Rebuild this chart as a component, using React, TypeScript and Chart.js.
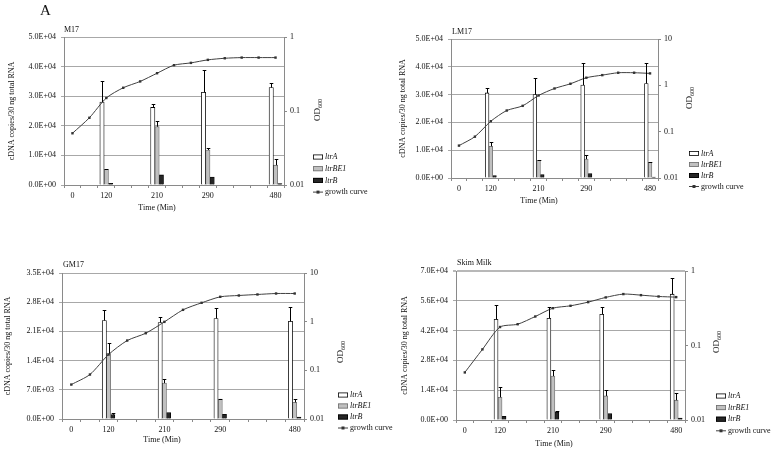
import React, { useEffect, useRef } from 'react';
import { Chart, registerables } from 'chart.js';
Chart.register(...registerables);

// ---------- data ----------
const timeLabels = ['0', '', '120', '', '', '210', '', '', '290', '', '', '', '480'];
const sampledIdx = [2, 5, 8, 12];

const m17LtrA = [28000, 26200, 31300, 32900];
const m17LtrAErr = [7200, 1200, 7500, 1700];
const m17LtrBE1 = [5300, 19700, 11800, 6700];
const m17LtrBE1Err = [200, 1900, 600, 2000];
const m17LtrB = [560, 3400, 2700, 450];
const m17LtrBErr = [0, 0, 0, 0];
const m17Growth = [0.050, 0.081, 0.150, 0.206, 0.251, 0.324, 0.416, 0.447, 0.491, 0.516, 0.527, 0.527, 0.527];

const lm17LtrA = [30600, 30000, 33400, 34000];
const lm17LtrAErr = [1600, 5800, 7900, 7500];
const lm17LtrBE1 = [11400, 6400, 6800, 5600];
const lm17LtrBE1Err = [1400, 200, 1300, 200];
const lm17LtrB = [840, 1200, 1600, 360];
const lm17LtrBErr = [0, 0, 0, 0];
const lm17Growth = [0.050, 0.078, 0.168, 0.286, 0.361, 0.604, 0.855, 1.08, 1.46, 1.66, 1.87, 1.87, 1.81];

const gm17LtrA = [23600, 23100, 24100, 23400];
const gm17LtrAErr = [2600, 1300, 2400, 3400];
const gm17LtrBE1 = [15700, 8600, 4800, 4000];
const gm17LtrBE1Err = [2600, 1000, 100, 900];
const gm17LtrB = [1040, 1520, 1120, 480];
const gm17LtrBErr = [400, 0, 0, 0];
const gm17Growth = [0.051, 0.082, 0.211, 0.409, 0.579, 0.99, 1.75, 2.44, 3.24, 3.45, 3.62, 3.79, 3.79];

const skimLtrA = [47300, 47800, 49700, 59100];
const skimLtrAErr = [6600, 5500, 3600, 7500];
const skimLtrBE1 = [10700, 20600, 11300, 9300];
const skimLtrBE1Err = [4600, 3000, 3000, 3300];
const skimLtrB = [1730, 3780, 3000, 940];
const skimLtrBErr = [0, 500, 0, 0];
const skimGrowth = [0.0435, 0.0887, 0.177, 0.193, 0.245, 0.317, 0.341, 0.382, 0.442, 0.490, 0.474, 0.455, 0.446];

// ---------- styling / layout ----------
const FONT = '"Liberation Serif", "Times New Roman", serif';
const GRID = '#a8a8a8';
const AXIS = '#8a8a8a';
const TXT = '#111';
const FILL_A = '#ffffff';
const FILL_BE1 = '#c0c0c0';
const FILL_B = '#262626';

const panels = [
  {
    key: 'M17', title: 'M17', box: [0, 0, 389, 218], plot: [64, 37, 284, 185],
    yMax: 5e4, yStep: 1e4, odMax: 1, bw: 4.3, thickTop: false,
    a: m17LtrA, aErr: m17LtrAErr, be: m17LtrBE1, beErr: m17LtrBE1Err, b: m17LtrB, bErr: m17LtrBErr, g: m17Growth,
    titlePos: [64, 30], yTitle: [12, 111], odPos: [318, 110], xTitle: [157, 208], legend: [313, 157, 11.7], drawA: true,
  },
  {
    key: 'LM17', title: 'LM17', box: [389, 0, 389, 218], plot: [451, 39, 658, 178],
    yMax: 5e4, yStep: 1e4, odMax: 10, bw: 3.7, thickTop: false,
    a: lm17LtrA, aErr: lm17LtrAErr, be: lm17LtrBE1, beErr: lm17LtrBE1Err, b: lm17LtrB, bErr: lm17LtrBErr, g: lm17Growth,
    titlePos: [452, 32], yTitle: [403, 108.5], odPos: [690, 98], xTitle: [539, 201], legend: [689, 153.5, 11], drawA: false,
  },
  {
    key: 'GM17', title: 'GM17', box: [0, 248, 400, 200], plot: [62, 273, 304, 419],
    yMax: 3.5e4, yStep: 7e3, odMax: 10, bw: 4.2, thickTop: false,
    a: gm17LtrA, aErr: gm17LtrAErr, be: gm17LtrBE1, beErr: gm17LtrBE1Err, b: gm17LtrB, bErr: gm17LtrBErr, g: gm17Growth,
    titlePos: [63, 265], yTitle: [8, 346], odPos: [341, 352], xTitle: [162, 440], legend: [338, 395, 11], drawA: false,
  },
  {
    key: 'Skim', title: 'Skim Milk', box: [389, 248, 389, 200], plot: [456, 271, 685, 420],
    yMax: 7e4, yStep: 1.4e4, odMax: 1, bw: 4.0, thickTop: true,
    a: skimLtrA, aErr: skimLtrAErr, be: skimLtrBE1, beErr: skimLtrBE1Err, b: skimLtrB, bErr: skimLtrBErr, g: skimGrowth,
    titlePos: [457, 263], yTitle: [405, 345.5], odPos: [717, 342], xTitle: [554, 444], legend: [716, 396, 11.6], drawA: false,
  },
];

function sci(v: number): string {
  if (Math.abs(v) < 1e-9) return '0.0E+00';
  const e = Math.floor(Math.log10(v) + 1e-9);
  const m = v / Math.pow(10, e);
  return m.toFixed(1) + 'E' + (e >= 0 ? '+' : '-') + String(Math.abs(e)).padStart(2, '0');
}

function spread(vals: number[]) {
  const out: (number | null)[] = timeLabels.map(() => null);
  sampledIdx.forEach((k, i) => { out[k] = vals[i]; });
  return out;
}

function decoPlugin(p: any) {
  return {
    id: 'deco' + p.key,
    afterDatasetsDraw(chart: any) {
      const ctx = chart.ctx;
      const ys = chart.scales.y;
      ctx.save();
      ctx.strokeStyle = '#000';
      ctx.lineWidth = 1;
      [p.aErr, p.beErr, p.bErr].forEach((errs: number[], k: number) => {
        const meta = chart.getDatasetMeta(k + 1);
        const vals = chart.data.datasets[k + 1].data;
        meta.data.forEach((el: any, j: number) => {
          const v = vals[j];
          if (v == null) return;
          const e = errs[sampledIdx.indexOf(j)];
          if (!e) return;
          const x = Math.round(el.x) + 0.5;
          const y0 = el.y;
          const y1 = Math.round(ys.getPixelForValue(v + e)) + 0.5;
          ctx.beginPath();
          ctx.moveTo(x, y0);
          ctx.lineTo(x, y1);
          ctx.moveTo(x - 1.8, y1);
          ctx.lineTo(x + 1.8, y1);
          ctx.stroke();
        });
      });
      ctx.restore();
    },
    afterDraw(chart: any) {
      const ctx = chart.ctx;
      const ox = p.box[0], oy = p.box[1];
      ctx.save();
      ctx.fillStyle = TXT;
      ctx.textBaseline = 'middle';
      if (p.drawA) {
        ctx.font = `15px ${FONT}`;
        ctx.textAlign = 'left';
        ctx.textBaseline = 'alphabetic';
        ctx.fillText('A', 40 - ox, 15 - oy);
        ctx.textBaseline = 'middle';
      }
      // panel title
      ctx.font = `8px ${FONT}`;
      ctx.textAlign = 'left';
      ctx.fillText(p.title, p.titlePos[0] - ox, p.titlePos[1] - oy);
      // x title
      ctx.textAlign = 'center';
      ctx.fillText('Time (Min)', p.xTitle[0] - ox, p.xTitle[1] - oy);
      // y title
      ctx.save();
      ctx.translate(p.yTitle[0] - ox, p.yTitle[1] - oy);
      ctx.rotate(-Math.PI / 2);
      ctx.textAlign = 'center';
      ctx.fillText('cDNA copies/30 ng total RNA', 0, 0);
      ctx.restore();
      // OD600
      ctx.save();
      ctx.translate(p.odPos[0] - ox, p.odPos[1] - oy);
      ctx.rotate(-Math.PI / 2);
      ctx.textAlign = 'left';
      ctx.font = `9px ${FONT}`;
      const w1 = ctx.measureText('OD').width;
      ctx.font = `6px ${FONT}`;
      const w2 = ctx.measureText('600').width;
      const st = -(w1 + w2) / 2;
      ctx.font = `9px ${FONT}`;
      ctx.fillText('OD', st, 0);
      ctx.font = `6px ${FONT}`;
      ctx.fillText('600', st + w1, 2.5);
      ctx.restore();
      // legend
      const [lx0, ly0, step] = p.legend;
      const lx = lx0 - ox;
      const items: [string, string, string][] = [
        ['ltrA', FILL_A, '#000'],
        ['ltrBE1', FILL_BE1, '#6e6e6e'],
        ['ltrB', FILL_B, '#000'],
      ];
      items.forEach(([t, f, s], i) => {
        const y = ly0 - oy + i * step;
        ctx.fillStyle = f;
        ctx.fillRect(lx, y - 2.5, 10, 5);
        ctx.strokeStyle = s;
        ctx.lineWidth = 0.8;
        ctx.strokeRect(lx + 0.4, y - 2.1, 9.2, 4.2);
        ctx.fillStyle = TXT;
        ctx.font = `italic 8px ${FONT}`;
        ctx.textAlign = 'left';
        ctx.fillText(t, lx + 12, y);
      });
      const gy = ly0 - oy + 3 * step;
      ctx.strokeStyle = '#404040';
      ctx.lineWidth = 1;
      ctx.beginPath();
      ctx.moveTo(lx, gy);
      ctx.lineTo(lx + 10, gy);
      ctx.stroke();
      ctx.fillStyle = '#333';
      ctx.fillRect(lx + 3.5, gy - 1.5, 3, 3);
      ctx.fillStyle = TXT;
      ctx.font = `8px ${FONT}`;
      ctx.fillText('growth curve', lx + 12, gy);
      ctx.restore();
    },
  };
}

function makeConfig(p: any): any {
  const [bx, by, bw, bh] = p.box;
  const [pl, pt, pr, pb] = p.plot;
  const decades = p.odMax === 10 ? [0.01, 0.1, 1, 10] : [0.01, 0.1, 1];
  const font = { family: FONT, size: 8 };
  return {
    type: 'bar',
    data: {
      labels: timeLabels,
      datasets: [
        {
          type: 'line', label: 'growth curve', data: p.g, yAxisID: 'y2',
          borderColor: '#404040', borderWidth: 1, tension: 0.25,
          pointStyle: 'rect', pointRadius: 1.7, pointBackgroundColor: '#333', pointBorderColor: '#333', pointBorderWidth: 0,
          order: 0,
        },
        { type: 'bar', label: 'ltrA', data: spread(p.a), yAxisID: 'y', backgroundColor: FILL_A, borderColor: '#000', borderWidth: 0.8, barThickness: p.bw, order: 1 },
        { type: 'bar', label: 'ltrBE1', data: spread(p.be), yAxisID: 'y', backgroundColor: FILL_BE1, borderColor: '#6e6e6e', borderWidth: 0.8, barThickness: p.bw, order: 1 },
        { type: 'bar', label: 'ltrB', data: spread(p.b), yAxisID: 'y', backgroundColor: FILL_B, borderColor: '#000', borderWidth: 0.8, barThickness: p.bw, order: 1 },
      ],
    },
    options: {
      responsive: false,
      animation: false,
      devicePixelRatio: 1,
      layout: { padding: { left: 0, right: 0, top: pt - by, bottom: 0 } },
      plugins: { legend: { display: false }, tooltip: { enabled: false }, title: { display: false } },
      scales: {
        x: {
          type: 'category', offset: true,
          grid: { offset: true, drawOnChartArea: false, drawTicks: true, tickLength: 3, color: AXIS },
          border: { color: AXIS },
          ticks: { autoSkip: false, maxRotation: 0, minRotation: 0, padding: 3, font, color: TXT },
          afterFit: (s: any) => { s.height = by + bh - pb; },
        },
        y: {
          position: 'left', min: 0, max: p.yMax,
          ticks: { stepSize: p.yStep, callback: (v: number) => sci(v), font, color: TXT, padding: 5 },
          grid: {
            color: (c: any) => (p.thickTop && c.tick && Math.abs(c.tick.value - p.yMax) < 1 ? '#b8b8b8' : GRID),
            lineWidth: (c: any) => (p.thickTop && c.tick && Math.abs(c.tick.value - p.yMax) < 1 ? 2 : 1),
            tickLength: 3,
          },
          border: { color: AXIS },
          afterFit: (s: any) => { s.width = pl - bx; },
        },
        y2: {
          type: 'logarithmic', position: 'right', min: 0.01, max: p.odMax,
          grid: { drawOnChartArea: false, tickLength: 3, color: AXIS },
          border: { color: AXIS },
          ticks: { callback: (v: number) => String(v), font, color: TXT, padding: 3 },
          afterBuildTicks: (s: any) => { s.ticks = decades.map((v) => ({ value: v })); },
          afterFit: (s: any) => { s.width = bx + bw - pr; },
        },
      },
    },
    plugins: [decoPlugin(p)],
  };
}

function Panel({ p }: { p: any }) {
  const ref = useRef<HTMLCanvasElement | null>(null);
  useEffect(() => {
    if (!ref.current) return;
    const chart = new Chart(ref.current, makeConfig(p));
    return () => chart.destroy();
  }, [p]);
  const [x, y, w, h] = p.box;
  return (
    <canvas
      ref={ref}
      width={w}
      height={h}
      style={{ position: 'absolute', left: x, top: y, width: w, height: h }}
    />
  );
}

export default function App() {
  return (
    <div style={{ position: 'absolute', left: 0, top: 0, width: 778, height: 450, background: '#fff', overflow: 'hidden' }}>
      {panels.map((p) => <Panel key={p.key} p={p} />)}
    </div>
  );
}
